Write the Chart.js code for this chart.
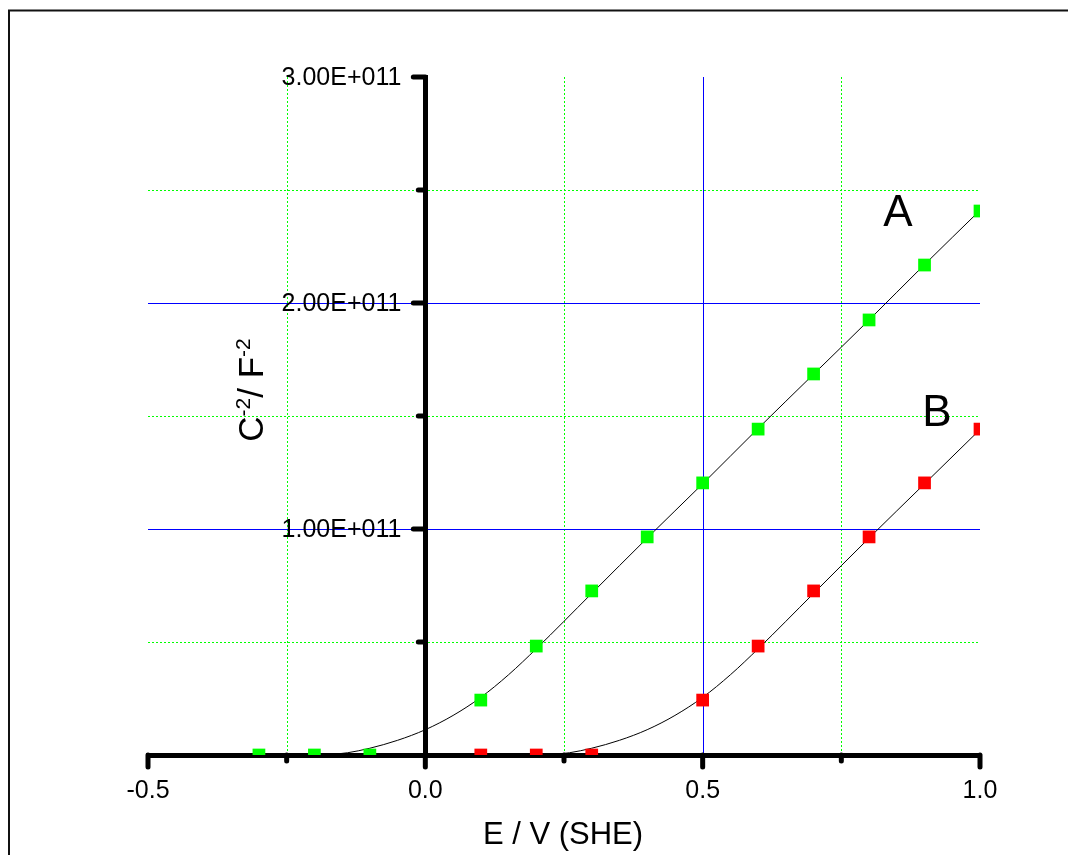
<!DOCTYPE html>
<html>
<head>
<meta charset="utf-8">
<script src="https://cdn.jsdelivr.net/npm/chart.js@4/dist/chart.umd.min.js"></script>
<style>
  html, body { margin: 0; padding: 0; background: #fff; }
  canvas { display: block; }
</style>
</head>
<body>
<canvas id="mottSchottky" width="1068" height="855"></canvas>
<script>
// measured points, C^-2 in F^-2
const potentialA = [-0.3, -0.2, -0.1, 0.1, 0.2, 0.3, 0.4, 0.5, 0.6, 0.7, 0.8, 0.9, 1.0];
const capA = [0, 0, 0, 0.243e11, 0.482e11, 0.726e11, 0.965e11, 1.204e11, 1.442e11, 1.686e11, 1.925e11, 2.168e11, 2.407e11];
const potentialB = [0.1, 0.2, 0.3, 0.5, 0.6, 0.7, 0.8, 0.9, 1.0];
const capB = [0, 0, 0, 0.243e11, 0.482e11, 0.726e11, 0.965e11, 1.204e11, 1.442e11];

// fitted curves
const fitPotA = [-0.18, -0.14, -0.1, -0.05, 0, 0.05, 0.1, 0.15, 0.2, 0.3, 0.4, 0.5, 0.6, 0.7, 0.8, 0.9, 1.0];
const fitCapA = [0, 0.01e11, 0.03e11, 0.065e11, 0.112e11, 0.175e11, 0.255e11, 0.355e11, 0.47e11, 0.715e11, 0.96e11, 1.2e11, 1.445e11, 1.685e11, 1.925e11, 2.17e11, 2.41e11];
const fitPotB = [0.22, 0.26, 0.3, 0.35, 0.4, 0.45, 0.5, 0.55, 0.6, 0.7, 0.8, 0.9, 1.0];
const fitCapB = [0, 0.01e11, 0.03e11, 0.065e11, 0.112e11, 0.175e11, 0.255e11, 0.355e11, 0.47e11, 0.715e11, 0.96e11, 1.2e11, 1.44e11];

// axes
const xLabelTicks = [-0.5, 0.0, 0.5, 1.0];
const xMinorTicks = [-0.25, 0.25, 0.75];
const yLabelTicks = [1e11, 2e11, 3e11];
const yMinorTicks = [0.5e11, 1.5e11, 2.5e11];
const xMajorGrid = [0.5];
const yMajorGrid = [1e11, 2e11];

const FONT = '"Liberation Sans", Arial, sans-serif';

function pts(xs, ys) {
    return xs.map((x, i) => ({x: x, y: ys[i]}));
}

function sciLabel(v) {
    const parts = v.toExponential(2).split('e');
    const sign = parts[1][0];
    return parts[0] + 'E' + sign + parts[1].slice(1).padStart(3, '0');
}

function line(ctx, x1, y1, x2, y2) {
    ctx.beginPath();
    ctx.moveTo(x1, y1);
    ctx.lineTo(x2, y2);
    ctx.stroke();
}

// text with raised small parts, e.g. C^-2
function drawSup(ctx, parts, size) {
    const small = Math.round(size * 0.6);
    let total = 0;
    parts.forEach(p => {
        ctx.font = (p.sup ? small : size) + 'px ' + FONT;
        p.w = ctx.measureText(p.t).width;
        total += p.w;
    });
    let x = -total / 2;
    parts.forEach(p => {
        ctx.font = (p.sup ? small : size) + 'px ' + FONT;
        ctx.fillText(p.t, x, p.sup ? -size * 0.38 : 0);
        x += p.w;
    });
}

const decorPlugin = {
    id: 'decor',
    beforeDatasetsDraw(chart) {
        const {ctx, chartArea: a, scales: {x, y}} = chart;
        ctx.save();
        ctx.lineWidth = 1;
        ctx.strokeStyle = '#00ff00';
        ctx.setLineDash([2, 2]);
        xMinorTicks.forEach(v => {
            const px = Math.round(x.getPixelForValue(v)) + 0.5;
            line(ctx, px, a.top, px, a.bottom);
        });
        yMinorTicks.forEach(v => {
            const py = Math.round(y.getPixelForValue(v)) + 0.5;
            line(ctx, a.left, py, a.right, py);
        });
        ctx.setLineDash([]);
        ctx.strokeStyle = 'rgb(0, 0, 255)';
        xMajorGrid.forEach(v => {
            const px = Math.round(x.getPixelForValue(v)) + 0.5;
            line(ctx, px, a.top, px, a.bottom);
        });
        yMajorGrid.forEach(v => {
            const py = Math.round(y.getPixelForValue(v)) + 0.5;
            line(ctx, a.left, py, a.right, py);
        });
        ctx.restore();
    },
    afterDraw(chart) {
        const {ctx, scales: {x, y}} = chart;
        const x0 = x.getPixelForValue(0);
        const y0 = y.getPixelForValue(0);
        ctx.save();
        // tick marks
        ctx.strokeStyle = '#000';
        ctx.lineWidth = 5;
        ctx.lineCap = 'round';
        xLabelTicks.forEach(v => { const px = x.getPixelForValue(v); line(ctx, px, y0, px, y0 + 12); });
        xMinorTicks.forEach(v => { const px = x.getPixelForValue(v); line(ctx, px, y0, px, y0 + 6); });
        yLabelTicks.forEach(v => { const py = y.getPixelForValue(v); line(ctx, x0 - 12, py, x0, py); });
        yMinorTicks.forEach(v => { const py = y.getPixelForValue(v); line(ctx, x0 - 7, py, x0, py); });

        // y tick labels sit left of the crossing axis
        ctx.fillStyle = '#000';
        ctx.font = '25px ' + FONT;
        ctx.textAlign = 'right';
        ctx.textBaseline = 'middle';
        yLabelTicks.forEach(v => {
            ctx.fillText(sciLabel(v), x0 - 24, y.getPixelForValue(v) + 1);
        });

        // titles
        ctx.textBaseline = 'alphabetic';
        ctx.textAlign = 'left';
        ctx.save();
        ctx.translate(263, 390);
        ctx.rotate(-Math.PI / 2);
        drawSup(ctx, [{t: 'C'}, {t: '-2', sup: true}, {t: '/ F'}, {t: '-2', sup: true}], 35);
        ctx.restore();

        ctx.textAlign = 'center';
        ctx.font = '31px ' + FONT;
        ctx.fillText('E / V (SHE)', 563, 844);

        ctx.font = '44px ' + FONT;
        ctx.fillText('A', 898, 226);
        ctx.fillText('B', 937, 426);

        // outer frame
        ctx.lineWidth = 2;
        ctx.lineCap = 'butt';
        ctx.strokeStyle = '#111';
        ctx.strokeRect(9, 10.5, 1200, 1000);
        ctx.restore();
    }
};

new Chart(document.getElementById('mottSchottky').getContext('2d'), {
    type: 'scatter',
    data: {
        datasets: [
            {
                label: 'A',
                data: pts(potentialA, capA),
                pointStyle: 'rect',
                pointRadius: 9,
                pointBorderWidth: 0,
                backgroundColor: '#00ff00',
                borderColor: '#00ff00',
                clip: 0,
                order: 1
            },
            {
                label: 'B',
                data: pts(potentialB, capB),
                pointStyle: 'rect',
                pointRadius: 9,
                pointBorderWidth: 0,
                backgroundColor: '#ff0000',
                borderColor: '#ff0000',
                clip: 0,
                order: 1
            },
            {
                label: 'fit A',
                data: pts(fitPotA, fitCapA),
                showLine: true,
                pointRadius: 0,
                borderColor: '#000',
                borderWidth: 1,
                cubicInterpolationMode: 'monotone',
                clip: 0,
                order: 2
            },
            {
                label: 'fit B',
                data: pts(fitPotB, fitCapB),
                showLine: true,
                pointRadius: 0,
                borderColor: '#000',
                borderWidth: 1,
                cubicInterpolationMode: 'monotone',
                clip: 0,
                order: 2
            }
        ]
    },
    options: {
        responsive: false,
        animation: false,
        events: [],
        layout: {padding: {left: 148, right: 88, top: 77, bottom: 100}},
        plugins: {legend: {display: false}, tooltip: {enabled: false}},
        scales: {
            x: {
                type: 'linear',
                position: {y: 0},
                min: -0.5,
                max: 1.0,
                z: 1,
                afterBuildTicks: axis => { axis.ticks = xLabelTicks.map(v => ({value: v})); },
                ticks: {
                    color: '#000',
                    padding: 21,
                    font: {family: FONT, size: 25},
                    callback: v => v.toFixed(1)
                },
                grid: {drawOnChartArea: false, drawTicks: false},
                border: {color: '#000', width: 5}
            },
            y: {
                type: 'linear',
                position: {x: 0},
                min: 0,
                max: 3e11,
                z: 1,
                afterBuildTicks: axis => { axis.ticks = yLabelTicks.map(v => ({value: v})); },
                ticks: {display: false},
                grid: {drawOnChartArea: false, drawTicks: false},
                border: {color: '#000', width: 5}
            }
        }
    },
    plugins: [decorPlugin]
});
</script>
</body>
</html>
